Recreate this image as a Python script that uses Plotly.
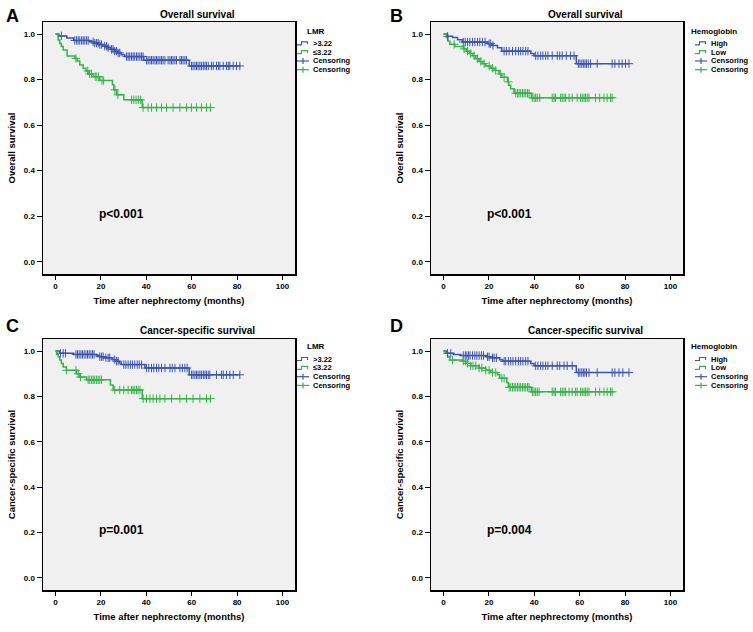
import plotly.graph_objects as go

W, H = 753, 632
FONT = "Arial, Liberation Sans, sans-serif"
BLUE = "#3d56b2"
GREEN = "#38b24a"

# ---------------- data ----------------
x_ticks = [0, 20, 40, 60, 80, 100]
y_ticks = [0.0, 0.2, 0.4, 0.6, 0.8, 1.0]
y_ticklabels = ["0.0", "0.2", "0.4", "0.6", "0.8", "1.0"]

# Panel A: Overall survival by LMR
A_high_t = [1.5, 5, 8, 15, 17, 19, 21, 23, 24.5, 26, 27.5, 29, 30.5, 38.9, 58.9]
A_high_s = [0.992, 0.983, 0.972, 0.966, 0.960, 0.954, 0.947, 0.940, 0.933, 0.925, 0.917, 0.909, 0.901, 0.885, 0.860]
A_high_c = [2.6, 8.5, 9.3, 10, 10.7, 11.5, 12.2, 12.9, 13.7, 14.4, 16.6, 17.3, 18.1, 18.8, 19.5, 20.3,
            21.7, 22.5, 23.2, 24.7, 25.4, 26.1, 26.9, 27.6, 28.3, 31.3, 32, 32.7, 33.5, 34.2, 34.9, 35.7,
            36.4, 37.2, 37.9, 38.6, 40.1, 40.8, 41.6, 42.3, 43, 43.8, 44.5, 45.2, 46, 46.7, 47.4, 48.2,
            49.6, 50.4, 51.1, 51.8, 52.6, 53.3, 54.8, 55.5, 56.2, 57, 57.7, 59.9, 60.6, 61.4, 62.1, 62.8,
            63.6, 64.3, 65.1, 65.8, 66.5, 67.3, 68.7, 69.5, 70.9, 71.7, 72.4, 73.9, 75.3, 76.1, 76.8,
            78.3, 79.7, 81.2]
A_low_t = [1.2, 1.9, 2.6, 3.4, 5.1, 8.5, 9.5, 10.7, 12.2, 13.4, 14.4, 16.6, 19.5, 25.1, 25.7, 26.9, 30.1, 38.2]
A_low_s = [0.974, 0.959, 0.945, 0.930, 0.904, 0.893, 0.882, 0.864, 0.850, 0.838, 0.825, 0.813, 0.796,
           0.777, 0.755, 0.733, 0.711, 0.677]
A_low_c = [9, 14.2, 15, 15.8, 17.5, 18.2, 19, 20.5, 21.2, 26.2, 27.5, 33.5, 34.5, 35.5, 36.5, 37.5,
           38.6, 40.8, 42.3, 44.5, 46.7, 48.9, 51.8, 54.8, 57.7, 59.9, 62.1, 64.3, 66.5, 68.3]

# Panel B: Overall survival by Hemoglobin
B_high_t = [1.8, 4, 6.2, 8.4, 19.4, 21.6, 23.8, 25.7, 38.4, 39.9, 58.5]
B_high_s = [0.990, 0.985, 0.975, 0.965, 0.958, 0.950, 0.940, 0.925, 0.915, 0.905, 0.870]
B_high_c = [1.8, 8.7, 9.6, 10.6, 11.6, 12.8, 13.8, 15, 16, 17.2, 18.3, 20.1, 20.8, 21.8, 26.7, 27.7,
            28.9, 30.4, 31.8, 33, 34, 35, 36.2, 37.2, 40.6, 41.6, 42.8, 43.8, 45, 46, 47.9, 50.1, 51.2,
            52.3, 54.1, 56, 57.5, 59.4, 60.1, 60.9, 61.6, 62.3, 63, 63.8, 64.8, 67.7, 74.3, 75.5, 77.3,
            78.7, 80.2, 81.7]
B_low_t = [1.3, 2, 2.8, 5, 8.7, 10.1, 11.3, 12.8, 14.2, 15.7, 17.2, 18.6, 20.8, 22.3, 24.5, 25.7, 28.2,
           28.7, 29.6, 31.1, 38.7]
B_low_s = [0.985, 0.968, 0.955, 0.945, 0.935, 0.925, 0.915, 0.905, 0.892, 0.880, 0.870, 0.860, 0.850,
           0.840, 0.825, 0.810, 0.790, 0.775, 0.760, 0.740, 0.720]
B_low_c = [4.7, 9.1, 10.6, 12, 13.5, 15, 16.4, 17.9, 20.1, 21.6, 23, 25.2, 26.7, 28.6, 31.8, 32.6, 33.3,
           34, 34.8, 35.5, 36.2, 37, 37.7, 39.1, 39.9, 40.6, 41.3, 42.4, 47.9, 48.7, 49.4, 51.6, 52.3,
           53.1, 53.8, 55.3, 56.7, 58.9, 60.4, 61.1, 61.9, 62.6, 63.3, 64.1, 67, 68.8, 70.7, 72.1, 73.6,
           74.3]

# Panel C: Cancer-specific survival by LMR
C_high_t = [1.9, 8, 18, 19.5, 21.3, 25.1, 26.9, 28, 29, 39.4, 58.9]
C_high_s = [0.990, 0.985, 0.980, 0.975, 0.970, 0.962, 0.955, 0.947, 0.940, 0.925, 0.895]
C_high_c = [2.2, 3.4, 4.4, 9, 9.7, 10.4, 11.2, 11.9, 12.6, 13.4, 14.1, 14.8, 15.6, 16.3, 17, 19.5, 20.3,
            21, 22.2, 23.2, 23.9, 26.1, 26.9, 27.6, 30.1, 31, 32, 33, 33.9, 34.9, 36, 36.9, 37.9, 40.1,
            41.1, 42.3, 43.3, 44.5, 45.5, 46.7, 48.2, 50.4, 51.4, 52.6, 54.8, 55.9, 57, 58, 59.9, 60.6,
            61.4, 62.1, 62.8, 63.6, 64.3, 65.1, 65.8, 66.5, 67.3, 68, 70.9, 73.1, 73.9, 75.3, 76.8, 78.3,
            81.2]
C_low_t = [0.5, 1.2, 1.9, 2.6, 3.4, 4.8, 9.3, 10.7, 13.7, 24.2, 25.4, 38.2]
C_low_s = [0.985, 0.975, 0.960, 0.945, 0.930, 0.915, 0.900, 0.885, 0.873, 0.850, 0.828, 0.790]
C_low_c = [4.8, 9, 10, 11, 14.4, 15.1, 15.9, 16.6, 17.3, 18.1, 18.8, 19.5, 20.3, 26.1, 28.3, 30.1, 32,
           33.5, 34.2, 34.9, 35.7, 36.4, 37.2, 38.6, 40.1, 41.6, 43, 44.5, 46, 48.2, 51.1, 54.8, 57.7,
           60.6, 63.6, 66.5, 68.3]

# Panel D: Cancer-specific survival by Hemoglobin
D_high_t = [1.5, 4.3, 7.6, 19, 20.8, 24.8, 26, 38.4, 39.9, 58.5]
D_high_s = [0.990, 0.985, 0.980, 0.975, 0.970, 0.962, 0.955, 0.945, 0.935, 0.905]
D_high_c = [1.8, 3.2, 8.7, 9.6, 10.3, 11, 11.7, 12.8, 13.8, 14.7, 15.7, 16.7, 17.6, 19.4, 20.1, 21.6,
            22.3, 23.3, 26.7, 27.4, 28.6, 29.6, 30.6, 31.8, 33, 34, 35, 36.2, 37.2, 40.6, 41.6, 42.8,
            43.8, 45, 46, 47.9, 50.1, 51.2, 53.1, 54.5, 56.7, 59.4, 60.1, 60.9, 61.6, 62.3, 63, 64.1,
            67.7, 74.3, 75.5, 77.3, 79, 81.7]
D_low_t = [0.8, 1.8, 2.8, 8.4, 9.8, 12, 15.7, 18.6, 20.8, 23.8, 24.8, 27.9, 28.6, 38.7]
D_low_s = [0.990, 0.975, 0.960, 0.955, 0.945, 0.935, 0.925, 0.915, 0.905, 0.895, 0.880, 0.860, 0.840, 0.820]
D_low_c = [4, 8.7, 9.6, 10.6, 12, 13, 14.2, 15.7, 16.9, 18.6, 20.1, 21.6, 23, 25.7, 26.7, 28.9, 29.6,
           30.4, 31.1, 31.8, 32.6, 33.3, 34, 34.8, 35.5, 36.2, 37, 37.7, 39.1, 39.9, 40.6, 41.3, 42.1,
           47.9, 48.7, 49.4, 51.6, 52.3, 53.1, 53.8, 55.3, 56.7, 58.2, 58.9, 60.4, 61.1, 61.9, 62.6,
           63.3, 64.1, 67, 68.8, 70.7, 72.1, 73.6, 74.3]

panel_letters = ["A", "B", "C", "D"]
panel_titles = ["Overall survival", "Overall survival", "Cancer-specific survival", "Cancer-specific survival"]
y_titles = ["Overall survival", "Overall survival", "Cancer-specific survival", "Cancer-specific survival"]
x_title = "Time after nephrectomy (months)"
p_values = ["p<0.001", "p<0.001", "p=0.001", "p=0.004"]
legend_titles = ["LMR", "Hemoglobin", "LMR", "Hemoglobin"]
legend_labels = [[">3.22", "≤3.22", "Censoring", "Censoring"],
                 ["High", "Low", "Censoring", "Censoring"],
                 [">3.22", "≤3.22", "Censoring", "Censoring"],
                 ["High", "Low", "Censoring", "Censoring"]]

curves = [
    [(A_high_t, A_high_s, A_high_c), (A_low_t, A_low_s, A_low_c)],
    [(B_high_t, B_high_s, B_high_c), (B_low_t, B_low_s, B_low_c)],
    [(C_high_t, C_high_s, C_high_c), (C_low_t, C_low_s, C_low_c)],
    [(D_high_t, D_high_s, D_high_c), (D_low_t, D_low_s, D_low_c)],
]
colors = [BLUE, GREEN]

# ---------------- layout geometry (pixels) ----------------
def px(x):
    return x / W

def py(y):
    return 1 - y / H

plot_boxes = [  # left, right, top, bottom in pixels
    (43, 295, 22, 274),
    (431, 683, 22, 274),
    (43, 295, 339, 590),
    (431, 683, 339, 590),
]


def surv_at(t, ev_t, ev_s):
    s = 1.0
    for tt, ss in zip(ev_t, ev_s):
        if tt <= t:
            s = ss
    return s


fig = go.Figure()
layout = dict(
    width=W, height=H,
    margin=dict(l=0, r=0, t=0, b=0),
    paper_bgcolor="white",
    plot_bgcolor="#f0f0f0",
    showlegend=False,
    font=dict(family=FONT, color="black"),
)

annotations = []
shapes = []

for i in range(4):
    k = "" if i == 0 else str(i + 1)
    xa, ya = "x" + k, "y" + k
    L, R, T, B = plot_boxes[i]
    layout["xaxis" + k] = dict(
        domain=[px(L), px(R)], anchor=ya, range=[-5.5, 105.5],
        tickvals=x_ticks, ticks="outside", ticklen=4, tickwidth=1, tickcolor="black",
        showline=True, linecolor="black", linewidth=1.5, mirror=True,
        showgrid=False, zeroline=False,
        tickfont=dict(family=FONT, size=8, weight="bold"),
        title=dict(text=x_title, font=dict(family=FONT, size=9.5, weight="bold"), standoff=7),
    )
    layout["yaxis" + k] = dict(
        domain=[py(B), py(T)], anchor=xa, range=[-0.054, 1.053],
        tickvals=y_ticks, ticktext=y_ticklabels, ticks="outside", ticklen=5, tickwidth=1,
        tickcolor="black",
        showline=True, linecolor="black", linewidth=1.5, mirror=True,
        showgrid=False, zeroline=False,
        tickfont=dict(family=FONT, size=8, weight="bold"),
        title=dict(text=y_titles[i], font=dict(family=FONT, size=9.5, weight="bold"), standoff=6),
    )

    for (ev_t, ev_s, cens), col in zip(curves[i], colors):
        tmax = max(max(cens), ev_t[-1])
        xs = [0] + list(ev_t) + [tmax]
        ys = [1.0] + list(ev_s) + [ev_s[-1]]
        fig.add_trace(go.Scatter(
            x=xs, y=ys, mode="lines", line=dict(color=col, width=1.5, shape="hv"),
            xaxis=xa, yaxis=ya, hoverinfo="skip"))
    for (ev_t, ev_s, cens), col in zip(curves[i], colors):
        fig.add_trace(go.Scatter(
            x=cens, y=[surv_at(c, ev_t, ev_s) for c in cens], mode="markers",
            marker=dict(symbol="cross-thin", size=6, line=dict(color=col, width=1)),
            xaxis=xa, yaxis=ya, hoverinfo="skip"))

    right_col = i % 2 == 1
    top_row = i < 2
    # panel letter
    lx = 396 if right_col else 12
    ly = 16 if top_row else 326
    annotations.append(dict(text=panel_letters[i], x=px(lx), y=py(ly), xref="paper", yref="paper",
                            showarrow=False, xanchor="center", yanchor="middle",
                            font=dict(family=FONT, size=18, weight="bold")))
    # chart title
    tx = 585.5 if right_col else 197.5
    ty = 14 if top_row else 330.5
    annotations.append(dict(text=panel_titles[i], x=px(tx), y=py(ty), xref="paper", yref="paper",
                            showarrow=False, xanchor="center", yanchor="middle",
                            font=dict(family=FONT, size=10, weight="bold")))
    # p-value
    pxp = 485 if right_col else 97
    pyp = 214 if top_row else 530
    annotations.append(dict(text=p_values[i], x=px(pxp), y=py(pyp), xref="paper", yref="paper",
                            showarrow=False, xanchor="left", yanchor="middle",
                            font=dict(family=FONT, size=12, weight="bold")))
    # legend
    title_x = 689 if right_col else 304.5
    icon_x = 695 if right_col else 297
    text_x = 709 if right_col else 311
    base_y = 31 if top_row else 346.7
    annotations.append(dict(text=legend_titles[i], x=px(title_x), y=py(base_y), xref="paper",
                            yref="paper", showarrow=False, xanchor="left", yanchor="middle",
                            font=dict(family=FONT, size=8, weight="bold")))
    entry_ys = [base_y + 12.3, base_y + 21.2, base_y + 30, base_y + 38.7]
    for j, (lab, ey) in enumerate(zip(legend_labels[i], entry_ys)):
        col = colors[j % 2]
        annotations.append(dict(text=lab, x=px(text_x), y=py(ey), xref="paper", yref="paper",
                                showarrow=False, xanchor="left", yanchor="middle",
                                font=dict(family=FONT, size=7.5, weight="bold")))
        if j < 2:
            pts = [(icon_x, ey + 1.5), (icon_x + 4.5, ey + 1.5), (icon_x + 4.5, ey - 1.5),
                   (icon_x + 10.5, ey - 1.5), (icon_x + 10.5, ey + 1)]
            path = "M " + " L ".join(f"{px(a):.5f},{py(b):.5f}" for a, b in pts)
            shapes.append(dict(type="path", path=path, xref="paper", yref="paper",
                               line=dict(color=col, width=1.2)))
        else:
            shapes.append(dict(type="line", x0=px(icon_x), x1=px(icon_x + 12), y0=py(ey), y1=py(ey),
                               xref="paper", yref="paper", line=dict(color=col, width=1.2)))
            shapes.append(dict(type="line", x0=px(icon_x + 6), x1=px(icon_x + 6), y0=py(ey - 3),
                               y1=py(ey + 3), xref="paper", yref="paper",
                               line=dict(color=col, width=1.2)))

layout["annotations"] = annotations
layout["shapes"] = shapes
fig.update_layout(**layout)
fig.write_html("out.html",
               config={"displayModeBar": False, "staticPlot": True},
               post_script="document.body.style.margin='0';document.body.style.overflow='hidden';")
